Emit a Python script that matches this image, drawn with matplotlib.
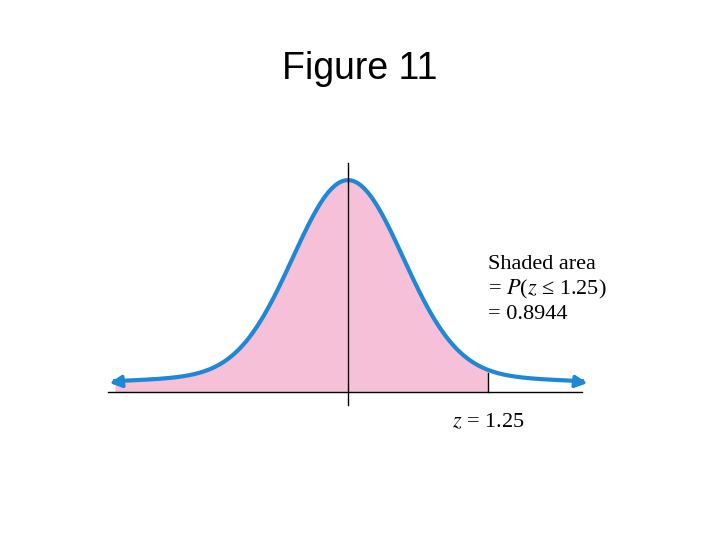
import matplotlib
matplotlib.use("Agg")
import matplotlib.pyplot as plt
import numpy as np

z_label = "1.25"
area_text = "0.8944"
# the textbook drawing is stylised: positions in drawing units (1 unit = 55 px)
u = 55.0
cut_pos = 140 / u
left_pos, right_pos = -233 / u, 234 / u

fig = plt.figure(figsize=(7.2, 5.4), dpi=100)
ax = fig.add_axes([0, 0, 1, 1])
ax.set_xlim(-348 / u, 372 / u)
ax.set_ylim(-148 / 531, 392 / 531)
ax.axis("off")


def curve(z):
    return 0.92 * np.exp(-z ** 2 / 2) / np.sqrt(2 * np.pi) + 0.032 * np.exp(-z ** 2 / 40)


z = np.linspace(left_pos, right_pos, 500)
y = curve(z)

shade = z <= cut_pos
ax.fill_between(z[shade], 0, y[shade], color="#f6c0d8", lw=0)
ax.plot(z, y, color="#1f88d6", lw=3)
ax.annotate("", xy=(left_pos - 0.15, y[0] - 0.004), xytext=(left_pos + 0.2, y[0]),
            arrowprops=dict(arrowstyle="-|>", color="#1f88d6", lw=2.5, mutation_scale=18))
ax.annotate("", xy=(right_pos + 0.15, y[-1] - 0.004), xytext=(right_pos - 0.2, y[-1]),
            arrowprops=dict(arrowstyle="-|>", color="#1f88d6", lw=2.5, mutation_scale=18))

ax.plot([-240 / u, 234 / u], [0, 0], color="black", lw=1)
ax.plot([0, 0], [-13 / 531, 229 / 531], color="black", lw=1)
ax.plot([cut_pos, cut_pos], [0, curve(cut_pos) - 0.005], color="black", lw=1)

ax.text(0.5, 0.873, "Figure 11", transform=fig.transFigure, ha="center", va="center",
        fontsize=27, family="Liberation Sans")
ax.text(140 / u, 137 / 531, "Shaded area\n= $P$($z$ \u2264 " + z_label + ")\n= " + area_text,
        ha="left", va="top", fontsize=16, family="Liberation Serif", linespacing=1.25,
        math_fontfamily="stix")
ax.text(104 / u, -31 / 531, "$z$ = " + z_label, ha="left", va="center", fontsize=16,
        family="Liberation Serif", math_fontfamily="stix")

fig.savefig("out.png", dpi=100)
